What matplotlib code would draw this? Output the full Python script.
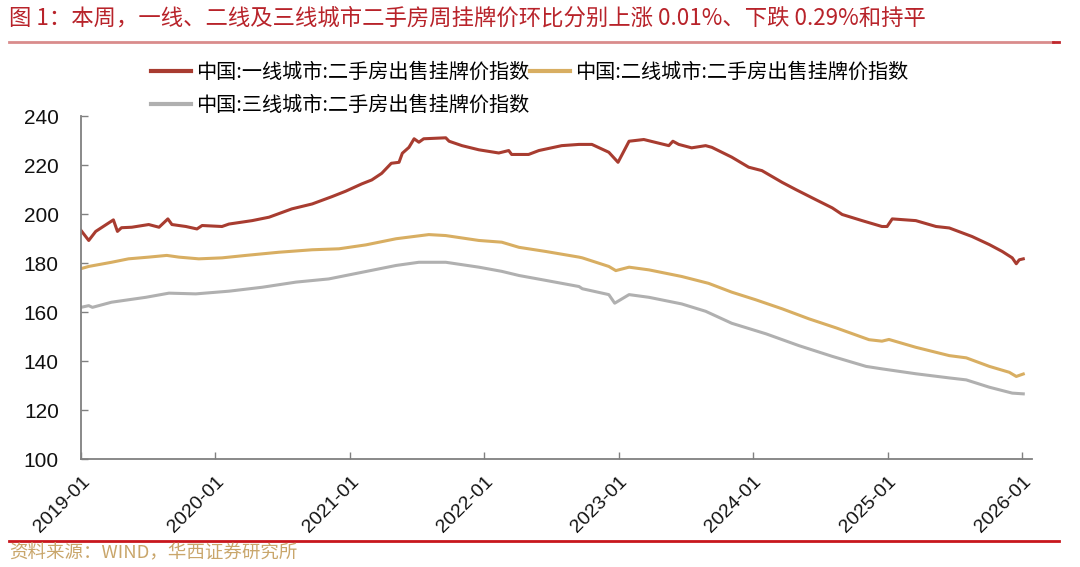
import matplotlib
matplotlib.use("Agg")
import matplotlib.pyplot as plt
import matplotlib.dates as mdates
from matplotlib.lines import Line2D
import pandas as pd

plt.rcParams['font.family'] = ['Liberation Sans', 'Noto Sans CJK SC', 'DejaVu Sans']

# 一线城市
t1_dates = ["2019-01-01", "2019-01-22", "2019-02-10", "2019-03-30", "2019-04-10", "2019-04-21",
            "2019-05-19", "2019-07-04", "2019-08-01", "2019-08-25", "2019-09-05", "2019-10-13",
            "2019-11-12", "2019-11-26", "2020-01-19", "2020-02-07", "2020-04-10", "2020-05-26",
            "2020-07-27", "2020-09-20", "2020-11-13", "2020-12-20", "2021-02-02", "2021-03-01",
            "2021-03-28", "2021-04-23", "2021-05-14", "2021-05-23", "2021-06-10", "2021-06-24",
            "2021-07-07", "2021-07-20", "2021-09-18", "2021-09-27", "2021-11-01", "2021-12-17",
            "2022-02-09", "2022-03-08", "2022-03-16", "2022-05-01", "2022-05-29", "2022-07-30",
            "2022-09-15", "2022-10-20", "2022-12-05", "2022-12-30", "2023-01-29", "2023-03-10",
            "2023-05-17", "2023-05-28", "2023-06-13", "2023-07-18", "2023-08-25", "2023-09-11",
            "2023-11-04", "2023-12-20", "2024-01-25", "2024-03-20", "2024-04-27", "2024-06-20",
            "2024-08-03", "2024-08-30", "2024-10-23", "2024-12-16", "2024-12-30", "2025-01-13",
            "2025-03-18", "2025-05-12", "2025-06-17", "2025-08-18", "2025-10-04", "2025-11-08",
            "2025-12-05", "2025-12-16", "2025-12-24", "2026-01-04"]
t1_vals = [193.4, 189.3, 193.0, 197.7, 193.0, 194.5,
           194.7, 195.8, 194.7, 198.1, 195.8, 195.0,
           194.0, 195.4, 195.0, 196.0, 197.4, 198.8,
           202.2, 204.2, 207.2, 209.4, 212.4, 214.0,
           216.7, 220.8, 221.2, 224.9, 227.3, 230.8,
           229.4, 230.8, 231.2, 229.8, 228.0, 226.3,
           225.0, 226.0, 224.4, 224.4, 226.0, 228.0,
           228.5, 228.5, 225.3, 221.2, 229.8, 230.5,
           228.0, 229.8, 228.5, 227.1, 228.0, 227.3,
           223.3, 219.2, 217.8, 213.0, 210.0, 205.9,
           202.6, 199.9, 197.4, 195.0, 195.0, 198.1,
           197.4, 195.0, 194.4, 190.9, 187.6, 184.8,
           182.2, 179.8, 181.4, 181.8]

# 二线城市
t2_dates = ["2019-01-01", "2019-01-22", "2019-03-25", "2019-05-10", "2019-07-04", "2019-08-22",
            "2019-09-24", "2019-11-17", "2020-01-19", "2020-03-24", "2020-06-22", "2020-09-20",
            "2020-12-02", "2021-02-13", "2021-05-06", "2021-08-03", "2021-09-18", "2021-12-17",
            "2022-02-17", "2022-04-05", "2022-06-17", "2022-09-15", "2022-09-24", "2022-12-05",
            "2022-12-24", "2023-01-29", "2023-03-24", "2023-06-21", "2023-09-02", "2023-11-04",
            "2024-01-08", "2024-03-20", "2024-06-01", "2024-08-14", "2024-11-11", "2024-12-16",
            "2025-01-04", "2025-03-18", "2025-06-17", "2025-08-02", "2025-10-04", "2025-11-27",
            "2025-12-16", "2026-01-04"]
t2_vals = [177.8, 178.7, 180.4, 181.8, 182.5, 183.2,
           182.5, 181.8, 182.2, 183.2, 184.5, 185.5,
           185.9, 187.5, 190.0, 191.7, 191.3, 189.3,
           188.6, 186.5, 184.8, 182.5, 182.2, 178.7,
           177.0, 178.4, 177.3, 174.6, 171.8, 168.2,
           165.1, 161.4, 157.3, 153.6, 148.8, 148.2,
           148.9, 145.7, 142.3, 141.4, 137.9, 135.5,
           133.8, 134.8]

# 三线城市
t3_dates = ["2019-01-01", "2019-01-22", "2019-02-01", "2019-03-25", "2019-06-26", "2019-08-28",
            "2019-11-09", "2020-02-07", "2020-05-07", "2020-08-07", "2020-11-04", "2021-02-02",
            "2021-05-06", "2021-07-07", "2021-09-18", "2021-12-17", "2022-02-17", "2022-04-05",
            "2022-06-17", "2022-09-15", "2022-09-24", "2022-12-05", "2022-12-21", "2023-01-29",
            "2023-03-24", "2023-06-21", "2023-08-25", "2023-11-04", "2024-02-05", "2024-05-04",
            "2024-08-03", "2024-11-03", "2024-12-16", "2025-03-18", "2025-06-17", "2025-08-02",
            "2025-10-04", "2025-12-05", "2026-01-04"]
t3_vals = [162.0, 162.7, 162.0, 164.1, 166.1, 167.8,
           167.5, 168.6, 170.2, 172.3, 173.6, 176.3,
           179.1, 180.4, 180.4, 178.4, 176.7, 175.0,
           173.0, 170.5, 169.6, 167.2, 163.7, 167.2,
           166.1, 163.4, 160.4, 155.5, 151.2, 146.4,
           142.0, 137.9, 136.9, 134.9, 133.2, 132.4,
           129.4, 127.0, 126.7]

labels = ["中国:一线城市:二手房出售挂牌价指数",
          "中国:二线城市:二手房出售挂牌价指数",
          "中国:三线城市:二手房出售挂牌价指数"]
colors = ["#A83C30", "#D8AE62", "#B0B0B0"]
yticks = [100, 120, 140, 160, 180, 200, 220, 240]
xtick_years = [2019, 2020, 2021, 2022, 2023, 2024, 2025, 2026]

title = "图 1：本周，一线、二线及三线城市二手房周挂牌价环比分别上涨 0.01%、下跌 0.29%和持平"
source = "资料来源：WIND，华西证券研究所"

cjk = ["Noto Sans CJK SC", "DejaVu Sans"]

fig = plt.figure(figsize=(10.8, 5.67), dpi=100)
ax = fig.add_axes([0.075, 0.19, 0.881, 0.605])

series = [(t1_dates, t1_vals), (t2_dates, t2_vals), (t3_dates, t3_vals)]
for (d, v), c, lb in zip(series, colors, labels):
    ax.plot(pd.to_datetime(d), v, color=c, lw=2.2, label=lb, solid_joinstyle="round")

ax.set_ylim(100, 240)
ax.set_yticks(yticks)
ax.set_xlim(pd.Timestamp("2019-01-01"), pd.Timestamp("2026-01-29"))
ax.set_xticks([pd.Timestamp(f"{y}-01-01") for y in xtick_years])
ax.xaxis.set_major_formatter(mdates.DateFormatter("%Y-%m"))

for s in ["top", "right"]:
    ax.spines[s].set_visible(False)
for s in ["left", "bottom"]:
    ax.spines[s].set_color("#808080")
    ax.spines[s].set_linewidth(1.3)
ax.tick_params(axis="both", direction="in", length=5, width=1, color="#808080",
               labelcolor="#111111")
ax.tick_params(axis="y", pad=16, labelsize=15)
ax.tick_params(axis="x", pad=10, labelsize=14)
for lab in ax.get_xticklabels():
    lab.set_rotation(45)
    lab.set_ha("right")
    lab.set_va("top")
    lab.set_rotation_mode("anchor")

# 图例按行排列: 一线、二线 / 三线
order = [0, 2, 1]
handles = [Line2D([0], [0], color=colors[i], lw=3) for i in order]
leg = fig.legend(handles, [labels[i] for i in order], loc="upper left",
                 bbox_to_anchor=(0.132, 0.905), ncol=2, frameon=False,
                 handlelength=2.0, handletextpad=0.25, columnspacing=0.05, labelspacing=0.6,
                 borderaxespad=0, prop={"family": cjk, "size": 14.5})

fig.text(0.008, 0.968, title, color="#B8232A", fontsize=16.1, va="center", ha="left",
         family=cjk)
fig.add_artist(Line2D([0.008, 0.975], [0.926, 0.926], color="#D98C8C", lw=2))
fig.add_artist(Line2D([0.975, 0.981], [0.926, 0.926], color="#C0272D", lw=2))
fig.add_artist(Line2D([0.008, 0.981], [0.046, 0.046], color="#C8161D", lw=2))
fig.text(0.008, 0.024, source, color="#C9A66B", fontsize=13.3, va="center", ha="left",
         family=cjk)

fig.savefig("out.png", dpi=100)
